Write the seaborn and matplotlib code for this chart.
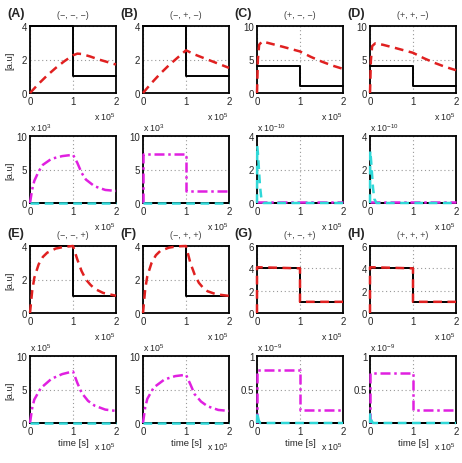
import matplotlib
matplotlib.use("Agg")
import matplotlib.pyplot as plt
import seaborn as sns

W, H = 462, 464

# ── input u(t): black step, identical in every top panel ──────
step_t = [0, 1, 1, 2]
step_u = [4, 4, 1, 1]
zero_t = [0, 2]
zero_y = [0, 0]

# ── top panels: red dashed response (time in units of 1e5 s) ──
a_top_t = [0, 0.2, 0.4, 0.6, 0.8, 1.0, 1.1, 1.2, 1.4, 1.6, 1.8, 2.0]
a_top_y = [0, 0.55, 1.05, 1.5, 1.9, 2.25, 2.35, 2.33, 2.18, 2.0, 1.85, 1.7]
b_top_t = [0, 0.2, 0.4, 0.6, 0.8, 1.0, 1.2, 1.4, 1.6, 1.8, 2.0]
b_top_y = [0, 0.6, 1.15, 1.65, 2.1, 2.55, 2.3, 2.1, 1.9, 1.7, 1.5]
c_top_t = [0, 0.02, 0.05, 0.12, 0.3, 0.6, 1.0, 1.25, 1.5, 1.75, 2.0]
c_top_y = [0, 5.0, 7.2, 7.7, 7.4, 6.9, 6.2, 5.4, 4.7, 4.1, 3.6]
d_top_t = [0, 0.02, 0.05, 0.12, 0.3, 0.6, 1.0, 1.25, 1.5, 1.75, 2.0]
d_top_y = [0, 4.8, 7.0, 7.4, 7.2, 6.7, 6.0, 5.2, 4.5, 3.9, 3.4]
e_top_t = [0, 0.05, 0.1, 0.2, 0.3, 0.4, 0.6, 0.8, 1.0, 1.1, 1.2, 1.3, 1.4, 1.5, 1.7, 2.0]
e_top_y = [0, 1.3, 2.1, 2.9, 3.35, 3.6, 3.85, 3.95, 4.0, 3.2, 2.5, 2.0, 1.7, 1.45, 1.2, 1.03]
f_top_t = [0, 0.05, 0.1, 0.2, 0.3, 0.4, 0.6, 0.8, 1.0, 1.1, 1.2, 1.3, 1.4, 1.5, 1.7, 2.0]
f_top_y = [0, 1.4, 2.2, 3.0, 3.45, 3.7, 3.9, 3.98, 4.0, 3.0, 2.3, 1.8, 1.5, 1.3, 1.12, 1.02]
g_top_t = [0, 0, 1, 1, 2]
g_top_y = [0, 4.1, 4.0, 1.0, 1.0]
h_top_t = [0, 0, 1, 1, 2]
h_top_y = [0, 4.1, 4.0, 1.0, 1.0]

# ── bottom panels: magenta dash-dot and cyan dashed ───────────
a_bot_t = [0, 0.05, 0.1, 0.2, 0.3, 0.5, 0.75, 1.0, 1.1, 1.2, 1.3, 1.5, 1.75, 2.0]
a_bot_y = [0, 2.0, 3.3, 4.7, 5.7, 6.6, 7.0, 7.2, 6.0, 4.5, 3.5, 2.5, 1.95, 1.8]
b_bot_t = [0, 0, 1, 1, 2]
b_bot_y = [0, 7.3, 7.3, 1.8, 1.8]
c_bot_t = [0, 1, 1, 2]
c_bot_y = [0.06, 0.06, 0.03, 0.03]
d_bot_t = [0, 1, 1, 2]
d_bot_y = [0.06, 0.06, 0.03, 0.03]
e_bot_t = [0, 0.05, 0.1, 0.25, 0.5, 0.75, 1.0, 1.1, 1.2, 1.35, 1.5, 1.75, 2.0]
e_bot_y = [0, 2.2, 3.5, 5.2, 6.6, 7.3, 7.7, 6.0, 4.5, 3.3, 2.6, 2.0, 1.8]
f_bot_t = [0, 0.05, 0.1, 0.25, 0.5, 0.75, 1.0, 1.1, 1.2, 1.35, 1.5, 1.75, 2.0]
f_bot_y = [0, 2.3, 3.6, 5.3, 6.5, 7.0, 7.2, 5.8, 4.3, 3.2, 2.5, 1.95, 1.8]
g_bot_t = [0, 0, 1, 1, 2]
g_bot_y = [0, 0.79, 0.79, 0.2, 0.2]
h_bot_t = [0, 0, 1, 1, 2]
h_bot_y = [0, 0.75, 0.75, 0.2, 0.2]

cyan_flat_t = [0, 2]
cyan_flat_y = [0, 0]
c_cyan_t = [0, 0.005, 0.02, 0.04, 0.07, 0.1, 0.15, 2.0]
c_cyan_y = [0, 3.4, 3.0, 2.2, 1.0, 0.3, 0, 0]
d_cyan_t = [0, 0.005, 0.02, 0.04, 0.07, 0.1, 0.15, 2.0]
d_cyan_y = [0, 3.1, 2.7, 2.0, 0.9, 0.25, 0, 0]
g_cyan_t = [0, 0.005, 0.02, 0.04, 0.07, 2.0]
g_cyan_y = [0, 0.16, 0.1, 0.04, 0, 0]
h_cyan_t = [0, 0.005, 0.02, 0.04, 0.07, 2.0]
h_cyan_y = [0, 0.13, 0.08, 0.03, 0, 0]

panel_labels = ["(A)", "(B)", "(C)", "(D)", "(E)", "(F)", "(G)", "(H)"]
panel_titles = ["(\u2212, \u2212, \u2212)", "(\u2212, +, \u2212)", "(+, \u2212, \u2212)", "(+, +, \u2212)",
                "(\u2212, \u2212, +)", "(\u2212, +, +)", "(+, \u2212, +)", "(+, +, +)"]
top_ylim = [4, 4, 10, 10, 4, 4, 6, 6]
top_yticks = [[0, 2, 4], [0, 2, 4], [0, 5, 10], [0, 5, 10],
              [0, 2, 4], [0, 2, 4], [0, 2, 4, 6], [0, 2, 4, 6]]
bot_ylim = [10, 10, 4, 4, 10, 10, 1, 1]
bot_yticks = [[0, 5, 10], [0, 5, 10], [0, 2, 4], [0, 2, 4],
              [0, 5, 10], [0, 5, 10], [0, 0.5, 1], [0, 0.5, 1]]
bot_ytick_labels = [["0", "5", "10"], ["0", "5", "10"], ["0", "2", "4"], ["0", "2", "4"],
                    ["0", "5", "10"], ["0", "5", "10"], ["0", "0.5", "1"], ["0", "0.5", "1"]]
bot_exponent = ["3", "3", "-10", "-10", "5", "5", "-9", "-9"]

top_red = [(a_top_t, a_top_y), (b_top_t, b_top_y), (c_top_t, c_top_y), (d_top_t, d_top_y),
           (e_top_t, e_top_y), (f_top_t, f_top_y), (g_top_t, g_top_y), (h_top_t, h_top_y)]
bot_mag = [(a_bot_t, a_bot_y), (b_bot_t, b_bot_y), (c_bot_t, c_bot_y), (d_bot_t, d_bot_y),
           (e_bot_t, e_bot_y), (f_bot_t, f_bot_y), (g_bot_t, g_bot_y), (h_bot_t, h_bot_y)]
bot_cyan = [(cyan_flat_t, cyan_flat_y), (cyan_flat_t, cyan_flat_y), (c_cyan_t, c_cyan_y), (d_cyan_t, d_cyan_y),
            (cyan_flat_t, cyan_flat_y), (cyan_flat_t, cyan_flat_y), (g_cyan_t, g_cyan_y), (h_cyan_t, h_cyan_y)]

# ── style ─────────────────────────────────────────────────────
sns.set_style("white")
plt.rcParams["font.family"] = ["Liberation Sans", "DejaVu Sans"]
plt.rcParams["mathtext.default"] = "regular"

RED = "#e02020"
MAG = "#e020e0"
CYAN = "#30d8d8"
GRID = "#999999"

COL_LEFT = [30, 143, 257, 370]
AX_W = 86
ROW_TOP = [27, 137, 247, 357]
AX_H = 67

fig = plt.figure(figsize=(W / 100, H / 100), dpi=100)


def line(ax, t, y, color, ls, lw, z=3):
    sns.lineplot(x=t, y=y, ax=ax, color=color, linestyle=ls, linewidth=lw,
                 sort=False, estimator=None, errorbar=None, clip_on=False, zorder=z)


def make_ax(left, top, ylim, yticks, yticklabels=None):
    ax = fig.add_axes([left / W, 1 - (top + AX_H) / H, AX_W / W, AX_H / H])
    ax.set_xlim(0, 2)
    ax.set_ylim(0, ylim)
    ax.set_xticks([0, 1, 2])
    ax.set_yticks(yticks)
    if yticklabels is not None:
        ax.set_yticklabels(yticklabels)
    ax.grid(True, linestyle=(0, (1, 2.5)), color=GRID, linewidth=0.8)
    ax.tick_params(length=0, labelsize=7, pad=2)
    for s in ax.spines.values():
        s.set_color("black")
        s.set_linewidth(1.3)
    return ax


def x_exponent(ax, top):
    fig.text((ax.get_position().x1 * W) / W, 1 - (top + AX_H + 23) / H, "x 10$^{5}$",
             ha="right", va="center", fontsize=6.3)


DASH = (0, (3.5, 2.2))
DASHDOT = (0, (4, 1.5, 1, 1.5))

for i in range(8):
    col = i % 4
    blk = i // 4
    left = COL_LEFT[col]

    # top panel: state with input step
    top = ROW_TOP[2 * blk]
    ax = make_ax(left, top, top_ylim[i], top_yticks[i])
    line(ax, step_t, step_u, "black", "-", 1.4, z=3)
    t, y = top_red[i]
    line(ax, t, y, RED, DASH, 1.8, z=4)
    x_exponent(ax, top)
    ax.text(0.5, 1 + 11 / AX_H, panel_titles[i], transform=ax.transAxes,
            ha="center", va="center", fontsize=6.5, color="#444444")
    fig.text((left - 23) / W, 1 - (top - 13) / H, panel_labels[i],
             ha="left", va="center", fontsize=9, fontweight="bold")
    if col == 0:
        fig.text(10 / W, 1 - (top + AX_H / 2) / H, "[a.u]", rotation=90,
                 ha="center", va="center", fontsize=6.8)

    # bottom panel: sensitivities
    top = ROW_TOP[2 * blk + 1]
    ax = make_ax(left, top, bot_ylim[i], bot_yticks[i], bot_ytick_labels[i])
    line(ax, zero_t, zero_y, "black", "-", 1.4, z=3)
    t, y = bot_mag[i]
    line(ax, t, y, MAG, DASHDOT, 1.8, z=4)
    t, y = bot_cyan[i]
    line(ax, t, y, CYAN, DASH, 1.8, z=5)
    x_exponent(ax, top)
    fig.text(left / W, 1 - (top - 9) / H, "x 10$^{%s}$" % bot_exponent[i],
             ha="left", va="center", fontsize=6.3)
    if col == 0:
        fig.text(10 / W, 1 - (top + AX_H / 2) / H, "[a.u]", rotation=90,
                 ha="center", va="center", fontsize=6.8)
    if blk == 1:
        fig.text((left + AX_W / 2) / W, 1 - (top + AX_H + 20) / H, "time [s]",
                 ha="center", va="center", fontsize=6.8)

plt.savefig("out.png", dpi=100)
plt.close()
